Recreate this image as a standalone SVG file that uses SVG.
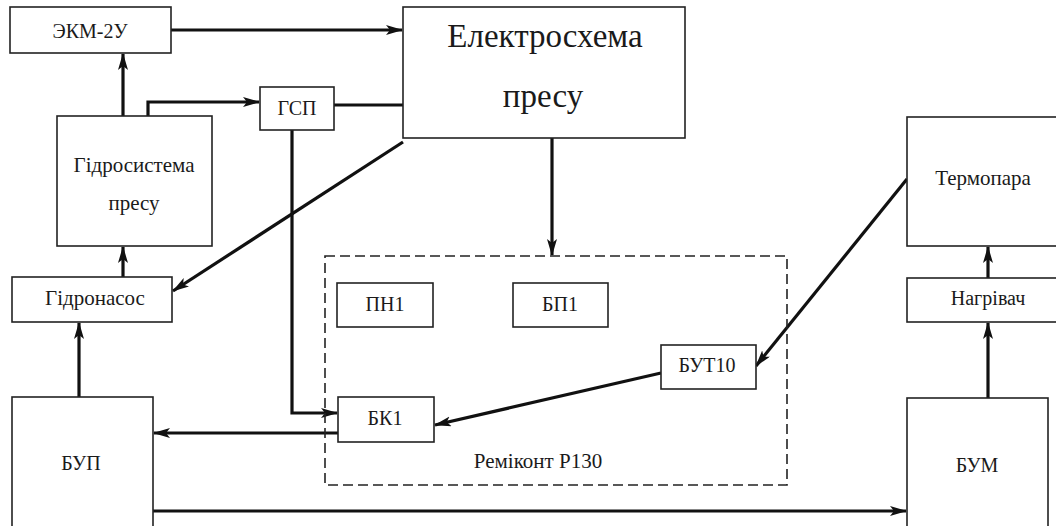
<svg xmlns="http://www.w3.org/2000/svg" width="1056" height="526" viewBox="0 0 1056 526" font-family="Liberation Serif, Times New Roman, serif">
<style>
.box{fill:#fff;stroke:#222;stroke-width:1.6}
.dash{fill:none;stroke:#222;stroke-width:1.6;stroke-dasharray:10 5}
.t{fill:#1a1a1a;text-anchor:middle;font-family:"Liberation Serif","Times New Roman",serif}
.c{fill:none;stroke:#111;stroke-width:3.2}
.ca{fill:none;stroke:#111;stroke-width:3.2;marker-end:url(#ah)}
</style>
<defs>
<marker id="ah" markerUnits="userSpaceOnUse" markerWidth="18" markerHeight="12" refX="16" refY="5" orient="auto">
<path d="M0,0 L17,5 L0,10 L4,5 Z" fill="#111"/>
</marker>
</defs>
<rect width="1056" height="526" fill="#fff"/>
<g id="connectors">
<path class="ca" d="M171,30 H402"/>
<path class="ca" d="M123,116 V54"/>
<path class="ca" d="M148,116 V102 H259"/>
<path class="c" d="M334,105 H403"/>
<path class="ca" d="M403,142 L173,291"/>
<path class="ca" d="M123,277 V247"/>
<path class="ca" d="M79,397 V323"/>
<path class="ca" d="M292,130 V413 H337"/>
<path class="ca" d="M343,433 H154"/>
<path class="ca" d="M552,138 V255"/>
<path class="ca" d="M907,179 L756,366"/>
<path class="ca" d="M661,373 L435,425"/>
<path class="ca" d="M153,511 H906"/>
<path class="ca" d="M988,278 V247"/>
<path class="ca" d="M988,398 V323"/>
</g>
<g id="remikont">
<rect class="dash" x="325" y="256" width="462" height="229"/>
<text class="t" x="538" y="468" font-size="21">Реміконт Р130</text>
</g>
<g id="ekm"><rect class="box" x="10" y="7" width="161" height="46"/><text class="t" x="90" y="38" font-size="20">ЭКМ-2У</text></g>
<g id="elektroskhema"><rect class="box" x="403" y="7" width="282" height="131"/><text class="t" x="545" y="47" font-size="33">Електросхема</text><text class="t" x="543" y="107" font-size="33">пресу</text></g>
<g id="hidrosystema"><rect class="box" x="57" y="116" width="155" height="130"/><text class="t" x="134" y="172" font-size="21">Гідросистема</text><text class="t" x="134" y="210" font-size="21">пресу</text></g>
<g id="gsp"><rect class="box" x="260" y="87" width="74" height="43"/><text class="t" x="297" y="115" font-size="20">ГСП</text></g>
<g id="hidronasos"><rect class="box" x="12" y="277" width="160" height="45"/><text class="t" x="95" y="305" font-size="21">Гідронасос</text></g>
<g id="bup"><rect class="box" x="12" y="397" width="141" height="140"/><text class="t" x="81" y="470" font-size="20">БУП</text></g>
<g id="pn1"><rect class="box" x="337" y="283" width="96" height="44"/><text class="t" x="385" y="311" font-size="20">ПН1</text></g>
<g id="bp1"><rect class="box" x="513" y="283" width="95" height="44"/><text class="t" x="560" y="311" font-size="20">БП1</text></g>
<g id="but10"><rect class="box" x="661" y="345" width="95" height="44"/><text class="t" x="707" y="372" font-size="20">БУТ10</text></g>
<g id="bk1"><rect class="box" x="338" y="397" width="96" height="45"/><text class="t" x="385" y="425" font-size="20">БК1</text></g>
<g id="termopara"><rect class="box" x="907" y="117" width="160" height="129"/><text class="t" x="983" y="185" font-size="21">Термопара</text></g>
<g id="nahrivach"><rect class="box" x="907" y="278" width="160" height="44"/><text class="t" x="988" y="305" font-size="20">Нагрівач</text></g>
<g id="bum"><rect class="box" x="907" y="398" width="141" height="140"/><text class="t" x="977" y="472" font-size="20">БУМ</text></g>
</svg>
